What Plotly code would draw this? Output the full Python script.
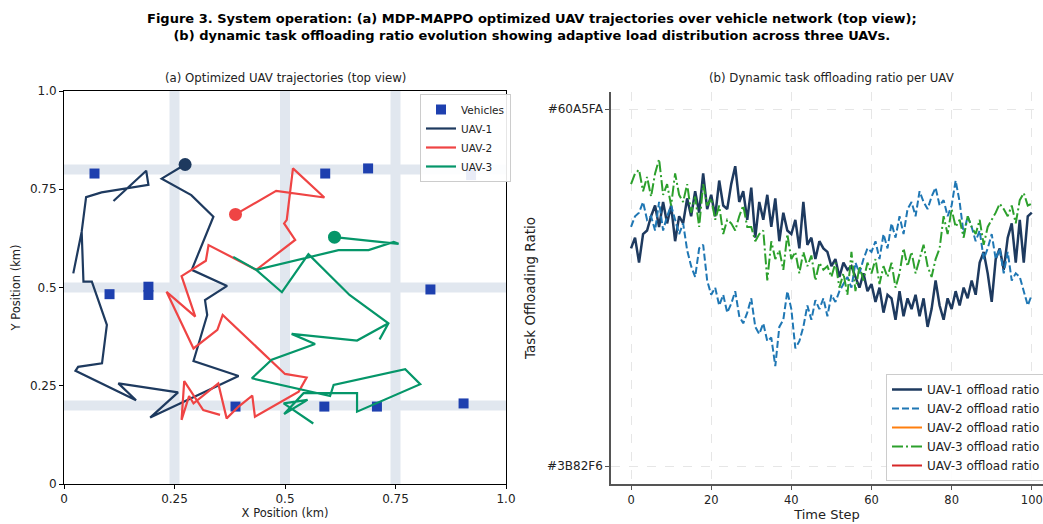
import plotly.graph_objects as go

# ---------------- data: panel (a) ----------------
road_x = [0.25, 0.5, 0.75]          # vertical roads
road_y = [0.2, 0.5, 0.8]            # horizontal roads

veh_x = [0.069, 0.103, 0.191, 0.191, 0.388, 0.591, 0.688, 0.921, 0.829, 0.589, 0.708, 0.904]
veh_y = [0.790, 0.483, 0.502, 0.481, 0.197, 0.790, 0.803, 0.786, 0.495, 0.197, 0.197, 0.205]

uav1_x = [0.274, 0.221, 0.288, 0.338, 0.289, 0.369, 0.319, 0.324, 0.293, 0.395, 0.195, 0.258,
          0.123, 0.163, 0.026, 0.032, 0.086, 0.097, 0.063, 0.044, 0.040, 0.021, 0.040, 0.050,
          0.085, 0.191, 0.186, 0.112]
uav1_y = [0.813, 0.777, 0.735, 0.680, 0.545, 0.504, 0.468, 0.430, 0.313, 0.275, 0.169, 0.233,
          0.256, 0.213, 0.288, 0.298, 0.307, 0.405, 0.515, 0.515, 0.642, 0.536, 0.642, 0.730,
          0.742, 0.761, 0.797, 0.720]

uav2_x = [0.388, 0.480, 0.589, 0.518, 0.504, 0.498, 0.523, 0.435, 0.327, 0.321, 0.266, 0.297,
          0.232, 0.293, 0.347, 0.359, 0.500, 0.549, 0.531, 0.432, 0.426, 0.395, 0.368, 0.349,
          0.293, 0.283, 0.266, 0.272, 0.315, 0.353]
uav2_y = [0.686, 0.746, 0.729, 0.803, 0.672, 0.663, 0.621, 0.545, 0.608, 0.568, 0.529, 0.426,
          0.489, 0.345, 0.392, 0.430, 0.280, 0.271, 0.235, 0.171, 0.225, 0.197, 0.167, 0.256,
          0.205, 0.224, 0.163, 0.262, 0.188, 0.176]

uav3_x = [0.612, 0.757, 0.746, 0.689, 0.621, 0.435, 0.383, 0.435, 0.493, 0.553, 0.646, 0.734,
          0.714, 0.734, 0.663, 0.515, 0.568, 0.470, 0.425, 0.602, 0.610, 0.772, 0.806, 0.663,
          0.663, 0.542, 0.498, 0.551, 0.497, 0.564]
uav3_y = [0.628, 0.611, 0.616, 0.595, 0.595, 0.545, 0.578, 0.545, 0.488, 0.585, 0.481, 0.409,
          0.368, 0.409, 0.365, 0.382, 0.356, 0.316, 0.269, 0.224, 0.252, 0.292, 0.254, 0.184,
          0.231, 0.231, 0.178, 0.214, 0.205, 0.154]

# ---------------- data: panel (b) ----------------
time_step = list(range(101))
ratio_uav1 = [0.61, 0.64, 0.57, 0.65, 0.66, 0.70, 0.73, 0.67, 0.74, 0.68, 0.73, 0.63, 0.70, 0.68,
              0.75, 0.70, 0.77, 0.71, 0.82, 0.72, 0.76, 0.70, 0.80, 0.73, 0.72, 0.79, 0.84, 0.74,
              0.77, 0.69, 0.78, 0.64, 0.74, 0.69, 0.76, 0.67, 0.75, 0.63, 0.71, 0.66, 0.65, 0.69,
              0.61, 0.74, 0.62, 0.64, 0.58, 0.63, 0.61, 0.60, 0.56, 0.58, 0.53, 0.57, 0.55, 0.56,
              0.53, 0.50, 0.54, 0.49, 0.51, 0.46, 0.50, 0.43, 0.48, 0.47, 0.41, 0.49, 0.42, 0.47,
              0.44, 0.48, 0.42, 0.47, 0.39, 0.44, 0.52, 0.45, 0.41, 0.47, 0.44, 0.49, 0.45, 0.50,
              0.47, 0.52, 0.48, 0.57, 0.60, 0.54, 0.46, 0.58, 0.61, 0.55, 0.64, 0.68, 0.57, 0.69,
              0.57, 0.70, 0.71]
ratio_uav2 = [0.67, 0.70, 0.71, 0.74, 0.69, 0.70, 0.66, 0.74, 0.66, 0.70, 0.73, 0.69, 0.65, 0.68,
              0.605, 0.56, 0.53, 0.61, 0.62, 0.52, 0.48, 0.50, 0.45, 0.48, 0.43, 0.455, 0.49, 0.42,
              0.40, 0.43, 0.47, 0.39, 0.37, 0.40, 0.35, 0.36, 0.28, 0.39, 0.41, 0.49, 0.44, 0.33,
              0.35, 0.39, 0.45, 0.41, 0.465, 0.44, 0.47, 0.42, 0.48, 0.46, 0.49, 0.51, 0.53, 0.50,
              0.57, 0.54, 0.58, 0.61, 0.60, 0.63, 0.58, 0.65, 0.61, 0.68, 0.64, 0.70, 0.65, 0.72,
              0.74, 0.70, 0.77, 0.74, 0.72, 0.755, 0.78, 0.73, 0.745, 0.70, 0.73, 0.80, 0.74, 0.65,
              0.70, 0.67, 0.63, 0.66, 0.58, 0.61, 0.65, 0.58, 0.61, 0.54, 0.60, 0.52, 0.54, 0.53,
              0.49, 0.45, 0.48]
ratio_uav3 = [0.79, 0.82, 0.83, 0.77, 0.81, 0.755, 0.82, 0.86, 0.76, 0.79, 0.73, 0.82, 0.76, 0.74,
              0.79, 0.71, 0.755, 0.67, 0.79, 0.73, 0.75, 0.69, 0.73, 0.65, 0.69, 0.68, 0.66, 0.70,
              0.73, 0.67, 0.67, 0.63, 0.65, 0.66, 0.52, 0.63, 0.58, 0.605, 0.55, 0.65, 0.58, 0.60,
              0.54, 0.60, 0.56, 0.59, 0.52, 0.57, 0.55, 0.56, 0.53, 0.57, 0.50, 0.54, 0.48, 0.60,
              0.49, 0.56, 0.52, 0.57, 0.54, 0.58, 0.51, 0.56, 0.53, 0.57, 0.50, 0.54, 0.61, 0.56,
              0.60, 0.54, 0.58, 0.62, 0.56, 0.53, 0.58, 0.61, 0.70, 0.65, 0.72, 0.67, 0.69, 0.64,
              0.70, 0.67, 0.65, 0.69, 0.62, 0.67, 0.69, 0.71, 0.735, 0.72, 0.70, 0.73, 0.68, 0.745,
              0.765, 0.73, 0.735]

ytick_vals_b = [0, 1]
ytick_text_b = ["#3B82F6", "#60A5FA"]
xtick_vals_b = [0, 20, 40, 60, 80, 100]

FONT = "DejaVu Sans"
W, H = 1043, 524

def px_x(p):
    return p / W

def px_y(p):
    return 1 - p / H

# road polylines built from road positions
rx, ry = [], []
for v in road_x:
    rx += [v, v, None]
    ry += [0, 1, None]
for h in road_y:
    rx += [0, 1, None]
    ry += [h, h, None]

fig = go.Figure()

fig.add_trace(go.Scatter(x=rx, y=ry, mode="lines", line=dict(color="#E1E7EF", width=10),
                         showlegend=False, hoverinfo="skip", xaxis="x", yaxis="y"))
fig.add_trace(go.Scatter(x=veh_x, y=veh_y, mode="markers", name="Vehicles",
                         marker=dict(symbol="square", size=10, color="#1E40AF"),
                         xaxis="x", yaxis="y", legend="legend"))

uav_cols = ["#1E3A5F", "#EF4444", "#059669"]
for name, xs, ys, c in [("UAV-1", uav1_x, uav1_y, uav_cols[0]),
                        ("UAV-2", uav2_x, uav2_y, uav_cols[1]),
                        ("UAV-3", uav3_x, uav3_y, uav_cols[2])]:
    fig.add_trace(go.Scatter(x=xs, y=ys, mode="lines", name=name,
                             line=dict(color=c, width=2.2), xaxis="x", yaxis="y", legend="legend"))
for xs, ys, c in [(uav1_x, uav1_y, uav_cols[0]), (uav2_x, uav2_y, uav_cols[1]), (uav3_x, uav3_y, uav_cols[2])]:
    fig.add_trace(go.Scatter(x=xs[:1], y=ys[:1], mode="markers", showlegend=False,
                             marker=dict(size=13, color=c), xaxis="x", yaxis="y"))

# panel (b)
fig.add_trace(go.Scatter(x=time_step, y=ratio_uav1, mode="lines", name="UAV-1 offload ratio",
                         line=dict(color="#1E3A5F", width=2.5), xaxis="x2", yaxis="y2", legend="legend2"))
fig.add_trace(go.Scatter(x=time_step, y=ratio_uav2, mode="lines", name="UAV-2 offload ratio",
                         line=dict(color="#1F77B4", width=2, dash="7px,3px"), xaxis="x2", yaxis="y2", legend="legend2"))
fig.add_trace(go.Scatter(x=[None], y=[None], mode="lines", name="UAV-2 offload ratio",
                         line=dict(color="#FF7F0E", width=2), xaxis="x2", yaxis="y2", legend="legend2"))
fig.add_trace(go.Scatter(x=time_step, y=ratio_uav3, mode="lines", name="UAV-3 offload ratio",
                         line=dict(color="#2CA02C", width=2, dash="11px,3px,2px,3px"), xaxis="x2", yaxis="y2", legend="legend2"))
fig.add_trace(go.Scatter(x=[None], y=[None], mode="lines", name="UAV-3 offload ratio",
                         line=dict(color="#D62728", width=2), xaxis="x2", yaxis="y2", legend="legend2"))

tickfont = dict(family=FONT, size=12, color="#222")

fig.update_layout(
    width=W, height=H,
    margin=dict(l=0, r=0, t=0, b=0, autoexpand=False),
    paper_bgcolor="white", plot_bgcolor="white",
    font=dict(family=FONT, size=11, color="#222"),
    xaxis=dict(domain=[px_x(64), px_x(506)], range=[0, 1], tickvals=[0, 0.25, 0.5, 0.75, 1.0],
               ticktext=["0", "0.25", "0.5", "0.75", "1.0"], showline=True, mirror=True,
               linecolor="black", linewidth=1, ticks="outside", ticklen=4, tickcolor="black",
               showgrid=False, zeroline=False, tickfont=tickfont,
               title=dict(text="X Position (km)", font=dict(family=FONT, size=11.5), standoff=3)),
    yaxis=dict(domain=[px_y(484), px_y(91)], range=[0, 1], tickvals=[0, 0.25, 0.5, 0.75, 1.0],
               ticktext=["0", "0.25", "0.5", "0.75", "1.0"], showline=True, mirror=True,
               linecolor="black", linewidth=1, ticks="outside", ticklen=4, tickcolor="black",
               showgrid=False, zeroline=False, tickfont=tickfont,
               title=dict(text="Y Position (km)", font=dict(family=FONT, size=11.5), standoff=6)),
    xaxis2=dict(domain=[px_x(611), 1.0], range=[-5, 102.8], tickvals=xtick_vals_b,
                showline=True, linecolor="#555", linewidth=1.5, ticks="outside", ticklen=4,
                tickcolor="#555", showgrid=True, gridcolor="#E6E6E6", griddash="dash",
                zeroline=False, tickfont=dict(family=FONT, size=11.5, color="#222"), anchor="y2",
                ticklabeloverflow="allow",
                title=dict(text="Time Step", font=dict(family=FONT, size=13), standoff=3)),
    yaxis2=dict(domain=[px_y(484), px_y(92)], range=[-0.05, 1.048], tickvals=ytick_vals_b,
                ticktext=ytick_text_b, showline=True, linecolor="#555", linewidth=1.5,
                ticks="outside", ticklen=4, tickcolor="#555", showgrid=True, gridcolor="#E6E6E6",
                griddash="dash", zeroline=False, anchor="x2",
                tickfont=dict(family=FONT, size=12, color="#222"),
                title=dict(text="Task Offloading Ratio", font=dict(family=FONT, size=13.5), standoff=8)),
    legend=dict(x=px_x(420), y=px_y(94), xanchor="left", yanchor="top",
                bgcolor="rgba(255,255,255,0.9)", bordercolor="#CCCCCC", borderwidth=1,
                font=dict(family=FONT, size=10.5, color="#222"), tracegroupgap=0),
    legend2=dict(x=px_x(886), y=px_y(481), xanchor="left", yanchor="bottom",
                 bgcolor="rgba(255,255,255,0.9)", bordercolor="#CCCCCC", borderwidth=1,
                 font=dict(family=FONT, size=12, color="#222"), tracegroupgap=0),
    annotations=[
        dict(text="<b>Figure 3. System operation: (a) MDP-MAPPO optimized UAV trajectories over vehicle network (top view);"
                  "<br>(b) dynamic task offloading ratio evolution showing adaptive load distribution across three UAVs.</b>",
             x=px_x(532), y=px_y(27), xref="paper", yref="paper", xanchor="center", yanchor="middle",
             showarrow=False, font=dict(family=FONT, size=13, color="black")),
        dict(text="(a) Optimized UAV trajectories (top view)", x=px_x(285), y=px_y(78),
             xref="paper", yref="paper", xanchor="center", yanchor="middle", showarrow=False,
             font=dict(family=FONT, size=11.75, color="#222")),
        dict(text="(b) Dynamic task offloading ratio per UAV", x=px_x(831.5), y=px_y(78),
             xref="paper", yref="paper", xanchor="center", yanchor="middle", showarrow=False,
             font=dict(family=FONT, size=11.75, color="#222")),
    ],
)

fig.write_html("out.html")
